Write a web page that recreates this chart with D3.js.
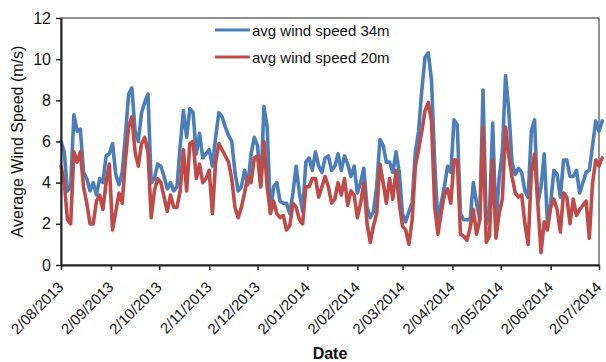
<!DOCTYPE html>
<html>
<head>
<meta charset="utf-8">
<script src="https://cdn.jsdelivr.net/npm/d3@7"></script>
<style>
  html, body { margin: 0; padding: 0; background: #fff; }
  svg { display: block; font-family: "Liberation Sans", Arial, sans-serif; }
</style>
</head>
<body>
<svg id="chart" width="606" height="362"></svg>
<script>
// ---- data ----
const startDate = "2013-08-02";   // first observation
const stepDays = 2;               // one value every two days
const speed34 = [
  6.0,5.5,3.6,3.8,7.3,6.5,6.6,4.5,4.2,3.6,
  4.0,3.4,4.2,4.0,5.3,5.4,5.9,4.4,3.9,4.5,
  6.3,8.3,8.6,6.5,6.0,7.4,7.9,8.3,4.0,4.2,
  4.9,4.8,4.3,3.7,4.0,3.6,3.8,5.8,7.5,6.2,
  7.6,7.4,5.4,6.4,5.2,5.4,5.6,4.8,6.2,7.4,
  7.2,6.7,6.3,6.0,4.5,3.6,3.8,4.6,3.9,5.4,
  6.2,5.8,3.8,7.7,6.7,2.5,3.8,4.0,3.1,3.0,
  3.0,2.5,3.5,4.8,3.5,2.6,5.0,5.2,4.6,5.5,
  4.8,4.5,5.2,5.3,4.6,4.8,5.4,4.6,5.3,4.9,
  4.3,4.8,3.5,4.0,4.7,2.8,2.3,2.6,3.8,6.1,
  5.8,5.0,5.0,4.5,5.5,4.5,2.5,2.1,2.6,3.0,
  5.5,6.5,8.5,10.1,10.3,9.0,5.0,2.0,3.0,3.8,
  4.8,4.5,7.05,6.8,2.5,2.2,2.2,2.2,4.0,3.0,
  2.2,8.5,2.0,2.5,6.9,2.0,4.2,5.5,9.2,7.5,
  5.0,4.4,4.7,4.5,3.6,3.3,6.5,7.05,3.0,3.8,
  5.4,2.0,3.0,4.6,4.4,3.3,5.1,5.1,4.3,4.3,
  4.6,3.5,4.0,4.5,4.6,5.8,7.0,6.5,7.0
];
const speed20 = [
  4.8,4.0,2.2,2.0,5.5,5.0,5.5,3.8,3.0,2.0,
  2.0,3.1,3.4,2.7,4.0,4.9,1.7,2.6,3.5,3.0,
  5.1,6.7,7.2,5.5,4.8,5.9,6.2,5.5,2.3,3.6,
  4.2,4.0,3.3,2.6,3.4,2.8,2.8,3.6,5.6,3.6,
  5.9,6.0,4.2,4.9,4.0,4.2,4.6,2.5,5.0,5.9,
  5.6,5.3,5.0,4.2,2.8,2.3,2.8,3.5,4.3,4.0,
  5.2,5.3,3.8,6.0,3.8,2.5,3.1,2.5,2.3,2.4,
  1.7,1.9,3.0,2.8,2.2,2.0,3.8,3.8,4.2,4.2,
  3.3,3.8,4.3,3.8,3.0,3.2,4.0,3.4,4.2,2.9,
  3.6,3.4,2.3,3.0,4.0,2.0,1.1,1.9,2.5,4.9,
  4.0,3.0,4.2,3.2,4.6,3.0,1.9,1.7,1.0,2.2,
  4.8,5.6,6.5,7.5,7.9,7.0,2.8,1.5,2.5,3.4,
  3.7,3.0,5.1,5.1,1.5,1.4,1.2,1.8,2.7,1.5,
  2.2,6.7,1.1,1.4,5.1,1.3,2.5,3.2,6.7,5.3,
  4.3,3.5,3.3,3.4,2.0,1.0,4.5,5.4,3.0,0.6,
  2.1,1.7,2.8,3.2,2.7,1.6,3.5,3.3,2.0,3.2,
  2.4,2.7,2.9,3.1,1.3,4.0,5.1,4.8,5.2
];
const seriesNames = ["avg wind speed 34m", "avg wind speed 20m"];
const seriesColors = ["#4a7ebb", "#be4b48"];
const xTickLabels = ["2/08/2013","2/09/2013","2/10/2013","2/11/2013","2/12/2013","2/01/2014",
                     "2/02/2014","2/03/2014","2/04/2014","2/05/2014","2/06/2014","2/07/2014"];
const yTicks = [0, 2, 4, 6, 8, 10, 12];
const yTitle = "Average Wind Speed (m/s)";
const xTitle = "Date";

// ---- layout ----
const margin = { left: 61, top: 18, right: 7, bottom: 97 };
const W = 606, H = 362;
const iw = W - margin.left - margin.right;
const ih = H - margin.top - margin.bottom;

const parseDay = d3.utcParse("%Y-%m-%d");
const parseTick = d3.utcParse("%d/%m/%Y");
const t0 = parseDay(startDate);
const dates = speed34.map((_, i) => d3.utcDay.offset(t0, i * stepDays));
const tickDates = xTickLabels.map(parseTick);

const x = d3.scaleUtc().domain([tickDates[0], tickDates[tickDates.length - 1]]).range([0, iw]);
const y = d3.scaleLinear().domain([0, 12]).range([ih, 0]);

const svg = d3.select("#chart");
const g = svg.append("g").attr("transform", `translate(${margin.left},${margin.top})`);

// frame (top/right)
g.append("rect").attr("x", 0).attr("y", 0).attr("width", iw).attr("height", ih)
  .attr("fill", "none").attr("stroke", "#222").attr("stroke-width", 1);

// lines
const series = [speed34, speed20];
series.forEach((vals, k) => {
  const line = d3.line().x((d, i) => x(dates[i])).y(d => y(d)).curve(d3.curveLinear);
  g.append("path").datum(vals)
    .attr("d", line)
    .attr("fill", "none")
    .attr("stroke", seriesColors[k])
    .attr("stroke-width", 3.6)
    .attr("stroke-linejoin", "round")
    .attr("stroke-linecap", "round");
});

// y axis
const yAxis = g.append("g").call(d3.axisLeft(y).tickValues(yTicks).tickSize(5).tickSizeOuter(0).tickPadding(5));
yAxis.select(".domain").attr("stroke", "#222").attr("stroke-width", 2);
yAxis.selectAll(".tick line").attr("stroke", "#222").attr("stroke-width", 1.5);
yAxis.selectAll(".tick text").attr("font-size", 16).attr("fill", "#111")
  .attr("font-family", "Liberation Sans, Arial, sans-serif");

// x axis
const xAxis = g.append("g").attr("transform", `translate(0,${ih})`)
  .call(d3.axisBottom(x).tickValues(tickDates).tickSize(5).tickSizeOuter(0)
        .tickFormat((d, i) => xTickLabels[i]));
xAxis.select(".domain").attr("stroke", "#222").attr("stroke-width", 2);
xAxis.selectAll(".tick line").attr("stroke", "#222").attr("stroke-width", 1.5);
xAxis.selectAll(".tick text")
  .attr("font-size", 15).attr("fill", "#111")
  .attr("font-family", "Liberation Sans, Arial, sans-serif")
  .attr("text-anchor", "end")
  .attr("x", 0).attr("y", 0).attr("dy", 0)
  .attr("transform", "translate(3,23) rotate(-45)");

// axis titles
svg.append("text")
  .attr("transform", `translate(23,${margin.top + ih / 2}) rotate(-90)`)
  .attr("text-anchor", "middle")
  .attr("font-size", 16).attr("fill", "#111")
  .text(yTitle);

svg.append("text")
  .attr("x", margin.left + iw / 2).attr("y", 359)
  .attr("text-anchor", "middle")
  .attr("font-size", 16).attr("font-weight", "bold").attr("fill", "#111")
  .text(xTitle);

// legend
const leg = svg.append("g").attr("transform", "translate(215,30)");
seriesNames.forEach((name, k) => {
  const row = leg.append("g").attr("transform", `translate(0,${k * 27})`);
  row.append("line").attr("x1", 0).attr("x2", 35).attr("y1", 0).attr("y2", 0)
    .attr("stroke", seriesColors[k]).attr("stroke-width", 3);
  row.append("text").attr("x", 37).attr("y", 5.5)
    .attr("font-size", 15).attr("fill", "#111").text(name);
});
</script>
</body>
</html>
